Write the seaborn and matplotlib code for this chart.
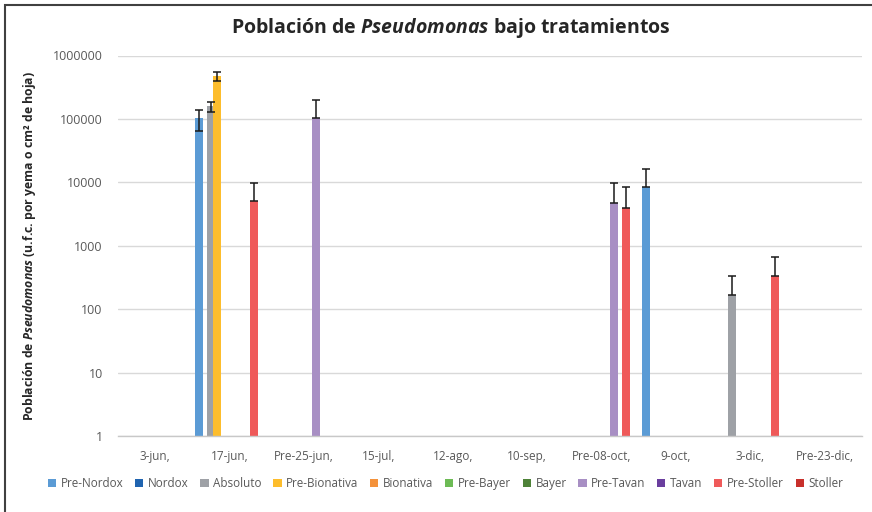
import numpy as np
import pandas as pd
import matplotlib
matplotlib.use("Agg")
import matplotlib.pyplot as plt
import seaborn as sns
from matplotlib.patches import Patch, Rectangle
from matplotlib.ticker import NullLocator

nan = np.nan

fechas = ["3-jun,", "17-jun,", "Pre-25-jun,", "15-jul,", "12-ago,", "10-sep,",
          "Pre-08-oct,", "9-oct,", "3-dic,", "Pre-23-dic,"]

tratamientos = ["Pre-Nordox", "Nordox", "Absoluto", "Pre-Bionativa", "Bionativa",
                "Pre-Bayer", "Bayer", "Pre-Tavan", "Tavan", "Pre-Stoller", "Stoller"]

colores = ["#5B9BD5", "#2064B0", "#9EA1A6", "#FDBD2C", "#F4923B",
           "#6DBB55", "#4E8238", "#A88FC4", "#6A3E9E", "#EF5A5A", "#C8302B"]

# values per treatment (one per date; nan = no bar)
pre_nordox    = [nan, 102000, nan, nan, nan, nan, nan, 8300, nan, nan]
nordox        = [nan, nan, nan, nan, nan, nan, nan, nan, nan, nan]
absoluto      = [nan, 160000, nan, nan, nan, nan, nan, nan, 170, nan]
pre_bionativa = [nan, 475000, nan, nan, nan, nan, nan, nan, nan, nan]
bionativa     = [nan, nan, nan, nan, nan, nan, nan, nan, nan, nan]
pre_bayer     = [nan, nan, nan, nan, nan, nan, nan, nan, nan, nan]
bayer         = [nan, nan, nan, nan, nan, nan, nan, nan, nan, nan]
pre_tavan     = [nan, nan, 103000, nan, nan, nan, 4800, nan, nan, nan]
tavan         = [nan, nan, nan, nan, nan, nan, nan, nan, nan, nan]
pre_stoller   = [nan, 5100, nan, nan, nan, nan, 4000, nan, 335, nan]
stoller       = [nan, nan, nan, nan, nan, nan, nan, nan, nan, nan]

# error bars (lower / upper)
z10 = [0] * 10
pre_nordox_lo    = [0, 38000, 0, 0, 0, 0, 0, 0, 0, 0]
pre_nordox_hi    = [0, 38000, 0, 0, 0, 0, 0, 8200, 0, 0]
absoluto_lo      = [0, 30000, 0, 0, 0, 0, 0, 0, 0, 0]
absoluto_hi      = [0, 26000, 0, 0, 0, 0, 0, 0, 160, 0]
pre_bionativa_lo = [0, 75000, 0, 0, 0, 0, 0, 0, 0, 0]
pre_bionativa_hi = [0, 70000, 0, 0, 0, 0, 0, 0, 0, 0]
pre_tavan_lo     = [0, 0, 0, 0, 0, 0, 0, 0, 0, 0]
pre_tavan_hi     = [0, 0, 98000, 0, 0, 0, 5100, 0, 0, 0]
pre_stoller_lo   = [0, 0, 0, 0, 0, 0, 0, 0, 0, 0]
pre_stoller_hi   = [0, 4800, 0, 0, 0, 0, 4300, 0, 340, 0]

valores = [pre_nordox, nordox, absoluto, pre_bionativa, bionativa, pre_bayer,
           bayer, pre_tavan, tavan, pre_stoller, stoller]
err_lo = [pre_nordox_lo, z10, absoluto_lo, pre_bionativa_lo, z10, z10, z10,
          pre_tavan_lo, z10, pre_stoller_lo, z10]
err_hi = [pre_nordox_hi, z10, absoluto_hi, pre_bionativa_hi, z10, z10, z10,
          pre_tavan_hi, z10, pre_stoller_hi, z10]

rows = []
for t, vals, los, his in zip(tratamientos, valores, err_lo, err_hi):
    for f, v, lo, hi in zip(fechas, vals, los, his):
        rows.append({"fecha": f, "tratamiento": t, "valor": v, "lo": lo, "hi": hi})
df = pd.DataFrame(rows)

sns.set_theme(style="white")
plt.rcParams["font.family"] = ["Open Sans", "DejaVu Sans"]
plt.rcParams["mathtext.fontset"] = "custom"
plt.rcParams["mathtext.it"] = "Open Sans:italic:bold"
plt.rcParams["mathtext.rm"] = "Open Sans:bold"
plt.rcParams["mathtext.bf"] = "Open Sans:bold"

fig = plt.figure(figsize=(8.72, 5.12), dpi=100)
ax = fig.add_axes([118 / 872, 76 / 512, 744 / 872, 380.5 / 512])

sns.barplot(data=df, x="fecha", y="valor", hue="tratamiento", order=fechas,
            hue_order=tratamientos, palette=colores, width=0.9, errorbar=None,
            legend=False, saturation=1, linewidth=0, ax=ax)
ax.set_yscale("log")
ax.set_ylim(1, 1e6)
ax.set_xlim(-0.5, len(fechas) - 0.5)

# widen bars (Excel-like overlap) and add error bars
new_w = 0.108
for p in ax.patches:
    h = p.get_height()
    if not np.isfinite(h) or h <= 0:
        continue
    cx = p.get_x() + p.get_width() / 2
    p.set_width(new_w)
    p.set_x(cx - new_w / 2)
    ci = int(round(cx))
    sub = df[(df["fecha"] == fechas[ci]) & np.isclose(df["valor"].fillna(-1), h)]
    if len(sub):
        lo, hi = sub.iloc[0]["lo"], sub.iloc[0]["hi"]
        if lo > 0 or hi > 0:
            ax.errorbar(cx, h, yerr=[[lo], [hi]], fmt="none", ecolor="#1a1a1a",
                        elinewidth=1.1, capsize=3.0, capthick=1.1, zorder=5)

ticks = [1, 10, 100, 1000, 10000, 100000, 1000000]
ax.set_yticks(ticks)
ax.set_yticklabels([str(t) for t in ticks])
ax.yaxis.set_minor_locator(NullLocator())
ax.tick_params(axis="y", length=0, pad=11, labelsize=9, labelcolor="#595959")
ax.tick_params(axis="x", length=0, pad=10, labelsize=8.5, labelcolor="#595959")
ax.yaxis.grid(True, color="#d9d9d9", lw=1)
ax.set_axisbelow(True)
for s in ["top", "right", "left"]:
    ax.spines[s].set_visible(False)
ax.spines["bottom"].set_color("#c8c8c8")
ax.spines["bottom"].set_linewidth(1)
ax.set_xlabel("")
ax.set_ylabel("Población de $\\it{Pseudomonas}$ (u.f.c. por yema o cm² de hoja)",
              fontsize=8.8, fontweight="bold", color="#262626")
ax.yaxis.set_label_coords(-0.108, 0.5)

fig.text(0.517, 0.945, "Población de $\\it{Pseudomonas}$ bajo tratamientos",
         ha="center", va="center", fontsize=14, fontweight="bold", color="#262626")

handles = [Patch(facecolor=c, edgecolor="none", label=t) for t, c in zip(tratamientos, colores)]
fig.legend(handles=handles, loc="center", bbox_to_anchor=(0.511, 0.0547), ncol=11,
           frameon=False, fontsize=8.4, handlelength=0.7, handleheight=0.7,
           handletextpad=0.4, columnspacing=1.0, labelcolor="#595959")

fig.add_artist(Rectangle((5 / 872, -0.05), 2, 507 / 512 + 0.05, transform=fig.transFigure,
                         fill=False, edgecolor="#404040", lw=1.5))

fig.savefig("out.png", dpi=100)
